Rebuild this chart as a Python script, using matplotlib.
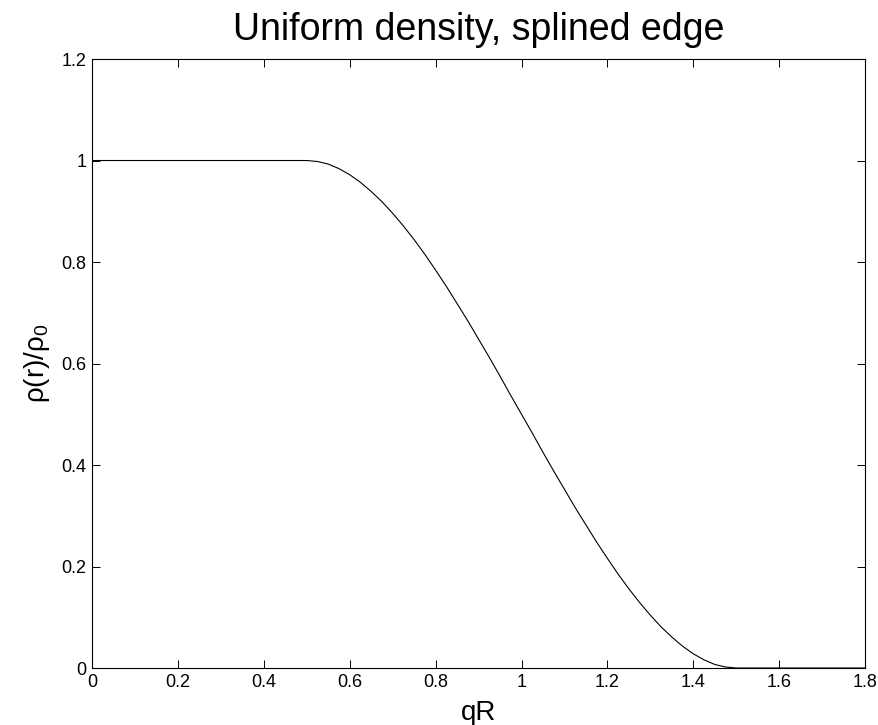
import matplotlib
matplotlib.use("Agg")
import matplotlib.pyplot as plt

plt.rcParams['font.family'] = ['Liberation Sans', 'DejaVu Sans']
plt.rcParams['mathtext.fontset'] = 'custom'
plt.rcParams['mathtext.rm'] = 'Liberation Sans'
plt.rcParams['mathtext.default'] = 'regular'

# values
qR = [0.0, 0.500, 0.525, 0.550, 0.575, 0.600, 0.625, 0.650, 0.675, 0.700, 0.725,
      0.750, 0.775, 0.800, 0.825, 0.850, 0.875, 0.900, 0.925, 0.950, 0.975,
      1.000, 1.025, 1.050, 1.075, 1.100, 1.125, 1.150, 1.175, 1.200, 1.225,
      1.250, 1.275, 1.300, 1.325, 1.350, 1.375, 1.400, 1.425, 1.450, 1.475,
      1.500, 1.800]
rho = [1.0, 1.000, 0.998, 0.993, 0.984, 0.972, 0.957, 0.939, 0.919, 0.896, 0.871,
       0.844, 0.815, 0.784, 0.752, 0.718, 0.684, 0.648, 0.612, 0.575, 0.537,
       0.500, 0.463, 0.425, 0.388, 0.352, 0.316, 0.282, 0.248, 0.216, 0.185,
       0.156, 0.129, 0.104, 0.081, 0.061, 0.043, 0.028, 0.016, 0.007, 0.002,
       0.0, 0.0]
xticks = [0, 0.2, 0.4, 0.6, 0.8, 1, 1.2, 1.4, 1.6, 1.8]
yticks = [0, 0.2, 0.4, 0.6, 0.8, 1, 1.2]

fig = plt.figure(figsize=(8.79, 7.25), dpi=100)
ax = fig.add_axes([0.1047, 0.0786, 0.8795, 0.84])
ax.plot(qR, rho, color='black', linewidth=0.8)

ax.set_xlim(0, 1.8)
ax.set_ylim(0, 1.2)
ax.set_xticks(xticks)
ax.set_xticklabels([f'{t:g}' for t in xticks])
ax.set_yticks(yticks)
ax.set_yticklabels([f'{t:g}' for t in yticks])
ax.tick_params(direction='in', length=6, width=0.7, top=True, right=True,
               labelsize=13, pad=4)
for s in ax.spines.values():
    s.set_linewidth(0.8)

# title centred over the axes, baseline ~40px from the top
ax.text(0.5, 1 + 19 / 609, 'Uniform density, splined edge', fontsize=27,
        ha='center', va='baseline', transform=ax.transAxes)

ax.set_xlabel('qR', fontsize=20)
ax.xaxis.label.set_va('baseline')
ax.xaxis.set_label_coords(0.5, -52 / 609)
ax.set_ylabel('ρ(r)/ρ$_0$', fontsize=20, labelpad=7)

fig.savefig('out.png', dpi=100)
